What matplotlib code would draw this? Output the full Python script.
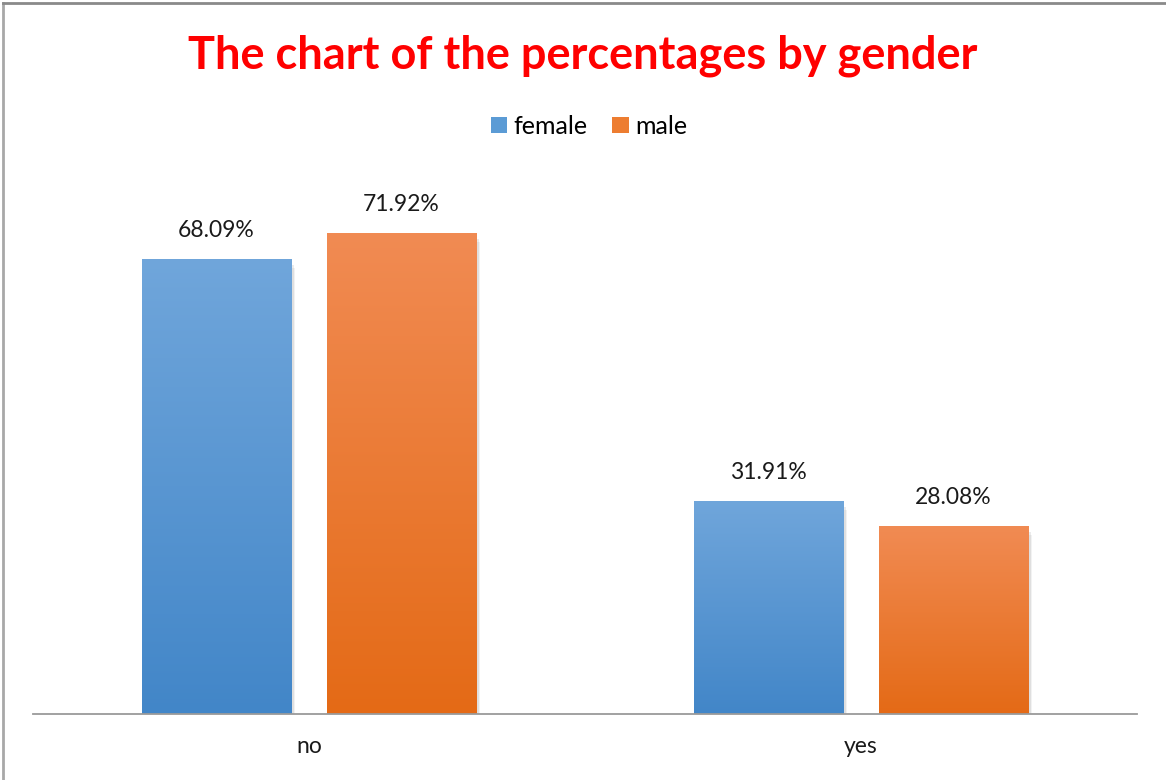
import numpy as np
import matplotlib
matplotlib.use("Agg")
import matplotlib.pyplot as plt
from matplotlib.colors import LinearSegmentedColormap
from matplotlib.lines import Line2D
from matplotlib.patches import Rectangle

# ==== Data ====
categories = ["no", "yes"]
series_names = ["female", "male"]
female = [68.09, 31.91]
male = [71.92, 28.08]
# ==============

plt.rcParams['font.family'] = ['Lato', 'DejaVu Sans']

# gradient colours (top, bottom) per series
grad = {
    "female": ("#70A6DB", "#4286C8"),
    "male": ("#F18B53", "#E46A16"),
}
legend_col = {"female": "#5B9BD5", "male": "#ED7D31"}

fig = plt.figure(figsize=(11.66, 7.8), dpi=100)
ax = fig.add_axes([0.0283, 0.0846, 0.9468, 0.6854])

x = np.arange(len(categories))
width = 0.27
offset = 0.1676

for name, vals, off in [("female", female, -offset), ("male", male, offset)]:
    cmap = LinearSegmentedColormap.from_list(name, [grad[name][1], grad[name][0]])
    bars = ax.bar(x + off, vals, width, color="none", edgecolor="none", zorder=3)
    for b, v in zip(bars, vals):
        x0 = b.get_x()
        # soft shadow
        for k, a in enumerate([0.12, 0.08, 0.05]):
            sh = Rectangle((x0 + 0.0025 * (k + 1), -0.45 * (k + 1)), width, v,
                           facecolor="black", alpha=a, edgecolor="none", zorder=2)
            ax.add_patch(sh)
        g = np.linspace(0, 1, 256).reshape(-1, 1)
        im = ax.imshow(g, cmap=cmap, origin="lower", aspect="auto",
                       extent=[x0, x0 + width, 0, v], zorder=3)
        im.set_clip_path(b)
        ax.text(x0 + width / 2, v + 2.7, f"{v:.2f}%", ha="center", va="bottom",
                fontsize=16.5, color="#1a1a1a", zorder=4)

ax.set_xlim(-0.5, 1.5)
ax.set_ylim(0, 80)
ax.set_xticks(x)
ax.set_xticklabels(categories, fontsize=16.5, color="#1a1a1a")
ax.tick_params(axis="x", length=0, pad=16)
ax.set_yticks([])
for s in ["top", "right", "left"]:
    ax.spines[s].set_visible(False)
ax.spines["bottom"].set_color("#9a9a9a")
ax.spines["bottom"].set_linewidth(1.3)
ax.spines["bottom"].set_zorder(5)

fig.text(0.5, 0.929, "The chart of the percentages by gender", ha="center", va="center",
         fontsize=32.5, fontweight="bold", color="#FF0000")

handles = [Rectangle((0, 0), 1, 1, facecolor=legend_col[n]) for n in series_names]
fig.legend(handles, series_names, loc="center", bbox_to_anchor=(0.505, 0.838), ncol=2,
           frameon=False, fontsize=18, handlelength=0.65, handleheight=0.65,
           handletextpad=0.25, columnspacing=1.0)

# border on left and top edges
fig.add_artist(Line2D([0.0022, 0.0022], [0, 0.996], transform=fig.transFigure,
                      color="#a8a8a8", lw=2))
fig.add_artist(Line2D([0.0022, 1], [0.996, 0.996], transform=fig.transFigure,
                      color="#8a8a8a", lw=2))

plt.savefig("out.png", dpi=100)
